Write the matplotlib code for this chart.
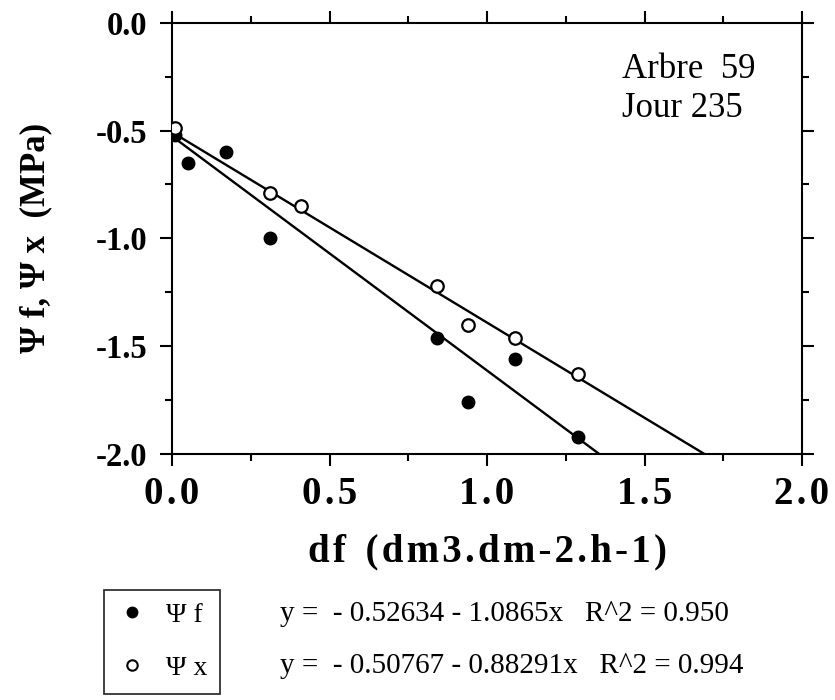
import matplotlib
matplotlib.use("Agg")
import matplotlib.pyplot as plt
import numpy as np
from matplotlib.ticker import MultipleLocator, FuncFormatter
from matplotlib.lines import Line2D

plt.rcParams['font.family'] = ['Liberation Serif', 'DejaVu Serif']
plt.rcParams['axes.unicode_minus'] = False

# data
df_f = [0.01, 0.05, 0.17, 0.31, 0.84, 0.94, 1.09, 1.29]
psi_f = [-0.52, -0.65, -0.60, -1.00, -1.46, -1.76, -1.56, -1.92]
df_x = [0.01, 0.31, 0.41, 0.84, 0.94, 1.09, 1.29]
psi_x = [-0.49, -0.79, -0.85, -1.22, -1.40, -1.46, -1.63]

# regression coefficients printed under the chart
intercepts = [-0.52634, -0.50767]
slopes = [-1.0865, -0.88291]
r2 = [0.950, 0.994]
labels = ["\u03a8 f", "\u03a8 x"]

fig = plt.figure(figsize=(8.35, 7), dpi=100)
ax = fig.add_axes([172 / 835, 1 - 454 / 700, 630 / 835, 431.3 / 700])

xx = np.linspace(0, 2, 50)
for b, a in zip(intercepts, slopes):
    ax.plot(xx, b + a * xx, color="black", lw=1.7)

ax.plot(df_f, psi_f, "o", color="black", ms=9, zorder=3)
ax.plot(df_x, psi_x, "o", mfc="white", mec="black", mew=1.6, ms=9, zorder=4)

ax.set_xlim(0, 2)
ax.set_ylim(-2, 0)
ax.xaxis.set_major_locator(MultipleLocator(0.5))
ax.xaxis.set_minor_locator(MultipleLocator(0.25))
ax.yaxis.set_major_locator(MultipleLocator(0.5))
ax.yaxis.set_minor_locator(MultipleLocator(0.25))
ax.xaxis.set_major_formatter(FuncFormatter(lambda v, p: "\u200a".join("%.1f" % v)))
ax.yaxis.set_major_formatter(FuncFormatter(lambda v, p: "%.1f" % v))

ax.tick_params(which="both", direction="out", top=True, right=True, width=1.5)
ax.tick_params(which="major", length=8.5)
ax.tick_params(which="minor", length=5)
ax.tick_params(axis="x", which="major", pad=7, labelsize=28)
ax.tick_params(axis="y", which="major", pad=9, labelsize=23.5)
for lab in ax.get_xticklabels() + ax.get_yticklabels():
    lab.set_fontweight("bold")
for s in ax.spines.values():
    s.set_linewidth(1.5)

ax.set_xlabel("\u200a".join("df") + "  " + "\u200a".join("(dm3.dm-2.h-1)"),
              fontsize=28, fontweight="bold")
ax.xaxis.set_label_coords(0.5, -0.185)
ax.set_ylabel("\u03a8 f, \u03a8 x  (MPa)", fontsize=25, fontweight="bold")
ax.yaxis.set_label_coords(-0.19, 0.5)

ax.text(0.714, 0.872, "Arbre  59", transform=ax.transAxes, fontsize=25,
        ha="left", va="baseline")
ax.text(0.714, 0.781, "Jour 235", transform=ax.transAxes, fontsize=25,
        ha="left", va="baseline")

handles = [Line2D([], [], ls="none", marker="o", color="black", ms=7.5),
           Line2D([], [], ls="none", marker="o", mfc="white", mec="black",
                  mew=1.5, ms=7.5)]
leg = fig.legend(handles, labels, loc="upper left",
                 bbox_to_anchor=(104 / 835, 1 - 590 / 700), fontsize=20,
                 frameon=True, fancybox=False, edgecolor="black",
                 handlelength=1.1, handletextpad=0.7, labelspacing=1.0,
                 borderpad=0.45, borderaxespad=0)
leg.get_frame().set_linewidth(1.3)

rows = [611, 663]
for b, a, r, yp in zip(intercepts, slopes, r2, rows):
    eq = "y =  - %.5f - %sx   R^2 = %.3f" % (-b, ("%.5g" % -a), r)
    fig.text(280 / 835, 1 - yp / 700, eq, fontsize=21, ha="left",
             va="center_baseline")

fig.savefig("out.png", dpi=100)
